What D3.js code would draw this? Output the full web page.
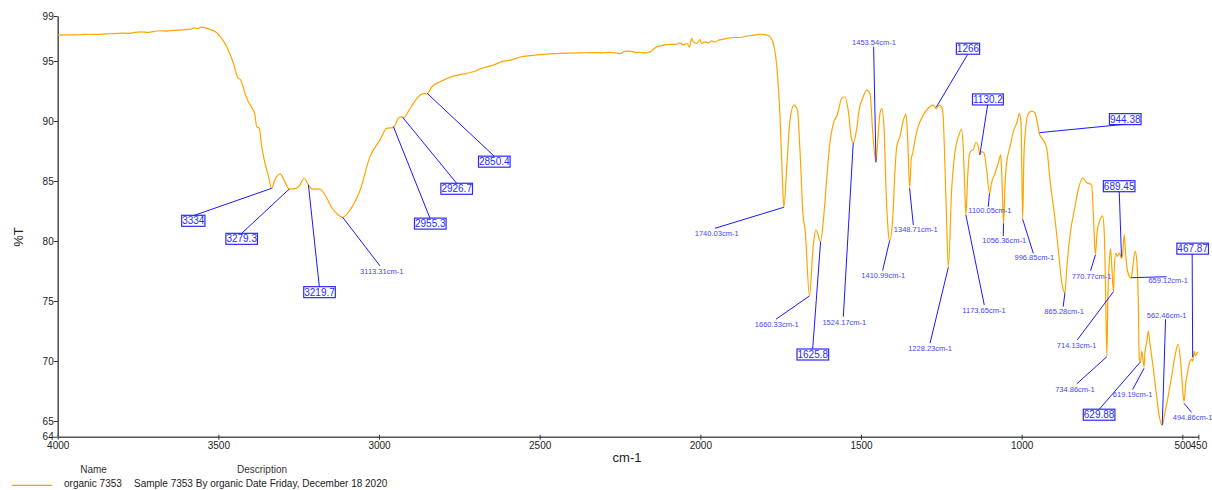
<!DOCTYPE html>
<html><head><meta charset="utf-8">
<script src="https://cdn.jsdelivr.net/npm/d3@7"></script>
<style>
body{margin:0;background:#fff;}
svg{display:block;font-family:"Liberation Sans",Arial,Helvetica,sans-serif;}
</style></head><body>
<svg id="chart" width="1212" height="490"></svg>
<script>
// ---------------- DATA ----------------
const wavenumber = [4000,3975,3950,3925,3900,3875,3850,3825,3800,3780,3760,3740,3720,3700,3680,3660,3640,3620,3600,3585,3575,3565,3555,3545,3526,3510,3495,3474,3453,3440,3430,3417,3407,3395,3386,3381,3373,3365,3355,3345,3334,3324,3308,3293,3279.3,3258,3246,3233,3219.7,3209,3184,3168,3146,3131,3113.31,3090,3059,3028,2997,2976,2957,2950,2940,2929,2926.7,2922,2914,2893,2872,2857,2850.4,2836,2810,2769,2727,2707,2686,2644,2613,2592,2561,2530,2499,2470,2437,2405,2375,2340,2312,2280,2250,2235,2219,2200,2188,2170,2157,2136,2115,2094,2074,2063,2053,2042,2034,2027,2022,2011,2001,1996,1986,1975,1965,1955,1944,1930,1918,1897,1877,1856,1835,1814,1794,1783,1773,1762,1752,1745,1740.03,1731,1721,1709,1698,1690,1680,1674,1660.33,1649,1640,1625.8,1617,1607,1597,1586,1574,1560,1550,1540,1529,1524.17,1514,1505,1495,1482,1472,1464,1453.54,1447,1441,1435,1428,1422,1415,1410.99,1401,1394,1389,1379,1368,1360,1355,1348.71,1344,1339,1332,1322,1306,1291,1277,1270,1266,1256,1246,1239,1234,1228.23,1218,1208,1197,1187,1182,1177,1173.65,1168,1163,1156,1151,1142,1135,1130.2,1125,1117,1109,1100.05,1094,1083,1073,1065,1061,1056.36,1052,1047,1036,1026,1014,1007,1002,996.85,993,987,980,969,959,951,944.38,933,922,912,896,886,875,865.28,860,850,834,824,810,798,782,777,770.77,765,756,748,743,739,734.86,732,727,723,719,714.13,712,707,703,696,689.45,686,681,676,669,659.12,655,647,642,637,634,629.88,626,619.19,616,611,606,601,590,580,572,562.46,554,544,533,523,513,505,499,494.86,489,482,476,471,467.87,463,459,454,450];
const transmittance = [97.15,97.18,97.17,97.20,97.23,97.21,97.26,97.28,97.33,97.30,97.38,97.42,97.38,97.47,97.52,97.49,97.56,97.58,97.62,97.66,97.76,97.70,97.82,97.80,97.62,97.45,97.07,96.18,94.80,93.63,93.40,92.30,91.60,91.08,90.50,89.53,89.40,87.87,86.49,85.51,84.39,85.12,85.60,84.93,84.33,84.38,84.68,85.23,84.67,84.33,84.33,83.83,82.73,82.27,81.98,82.60,84.23,87.03,88.43,89.39,89.45,89.67,90.23,90.36,90.31,90.28,90.58,91.47,92.16,92.30,92.25,92.85,93.27,93.74,93.97,94.10,94.33,94.66,94.99,95.07,95.33,95.45,95.53,95.60,95.63,95.66,95.68,95.70,95.68,95.72,95.62,95.80,95.83,95.70,95.73,95.68,95.76,96.18,96.32,96.38,96.40,96.51,96.32,96.46,96.18,96.88,96.59,96.46,96.79,96.46,96.59,96.51,96.68,96.57,96.73,96.80,96.88,96.96,96.96,97.07,97.15,97.23,97.18,97.01,96.46,94.52,90.33,85.37,82.81,86.20,90.09,91.33,90.92,87.59,82.03,80.93,75.42,79.55,80.93,79.94,81.77,85.10,88.15,89.81,90.50,91.89,92.02,90.92,88.42,88.19,89.25,91.06,91.89,92.58,92.30,89.25,86.56,88.70,90.63,91.03,89.25,84.27,80.67,80.03,82.05,85.93,87.87,88.70,90.09,90.58,88.70,84.39,86.76,87.32,88.42,89.53,90.50,91.06,91.33,91.19,91.00,91.33,90.92,86.49,82.05,77.81,84.27,87.32,88.70,89.31,87.87,84.27,82.17,85.37,87.18,87.53,87.59,88.23,87.87,87.20,87.45,87.32,85.93,83.97,84.83,85.65,86.49,87.18,84.83,81.47,84.54,86.49,87.87,89.11,89.94,90.63,89.81,81.81,87.04,89.53,90.58,90.83,90.69,89.81,88.90,88.42,87.73,85.10,81.77,79.28,76.51,75.69,77.62,80.38,82.88,84.27,85.24,84.87,84.68,82.33,78.83,80.80,81.77,82.10,80.67,76.23,70.40,74.85,78.45,79.34,77.62,75.78,77.62,79.00,78.72,79.00,78.55,78.86,80.53,78.72,77.33,76.90,77.62,79.14,78.45,74.85,70.13,69.94,70.83,69.50,70.83,71.53,72.49,71.53,69.30,67.08,65.42,64.65,65.70,67.08,68.75,70.41,71.38,69.86,67.64,66.60,68.20,69.30,69.99,70.13,69.99,70.83,70.41,70.69,70.73];

const xDomain = [4000, 450];
const yDomain = [63.69, 98.75];
const xTickValues = [4000, 3500, 3000, 2500, 2000, 1500, 1000, 500, 450];
const yTickValues = [98.75, 95, 90, 85, 80, 75, 70, 65, 63.69];
const xTitle = "cm-1";
const yTitle = "%T";
const legendHeaders = ["Name", "Description"];
const seriesName = "organic 7353";
const seriesDescription = "Sample 7353 By organic Date Friday, December 18 2020";

const peakText = ["3334","3279.3","3219.7","3113.31cm-1","2955.3","2926.7","2850.4","1740.03cm-1","1453.54cm-1","1660.33cm-1","1625.8","1524.17cm-1","1410.99cm-1","1348.71cm-1","1228.23cm-1","1173.65cm-1","1266","1130.2","1100.05cm-1","1056.36cm-1","996.85cm-1","944.38","865.28cm-1","770.77cm-1","689.45","659.12cm-1","714.13cm-1","734.86cm-1","629.88","619.19cm-1","562.46cm-1","494.86cm-1","467.87"];
const peakWavenumber = [3334,3279.3,3219.7,3113.31,2955.3,2926.7,2850.4,1740.03,1453.54,1660.33,1625.8,1524.17,1410.99,1348.71,1228.23,1173.65,1266,1130.2,1100.05,1056.36,996.85,944.38,865.28,770.77,689.45,659.12,714.13,734.86,629.88,619.19,562.46,494.86,467.87];
const peakT = [84.39,84.33,84.67,81.98,89.53,90.31,92.31,82.81,86.56,75.42,79.94,88.19,80.03,84.39,77.81,82.17,91.14,87.17,83.97,81.47,81.81,89.03,75.69,78.83,78.69,76.94,75.78,70.36,69.94,69.39,64.67,66.48,70.31];
const peakBoxed = [1,1,1,0,1,1,1,0,0,0,1,0,0,0,0,0,1,1,0,0,0,1,0,0,1,0,0,0,1,0,0,0,1];

// ---------------- LAYOUT ----------------
// label centre (dx,dy) and leader-line end (ex,ey), pixels relative to the peak point
const labelLayout = [
 [-78.4,32.5,-78.4,27.4],[-47.6,49.8,-47.6,44.3],[11.1,107.2,10.9,101.7],[39.1,54.4,37.4,48.7],
 [36.9,97,36.6,91.6],[54.1,71.5,54.1,66],[67.2,68.4,66.9,62.7],[-67.2,26,-68.9,21],
 [-2,-120,-2.3,-115.6],[-32.8,28.3,-33.5,23.3],[-7.8,112.8,-7.9,107.3],[-8.9,179.6,-9.9,174],
 [-6.4,35,-7,30],[6.1,41,3.7,36.7],[-18.3,81,-18.3,76],[18.1,95,18.4,90],
 [31.8,-58.6,31.5,-53],[8.1,-55.5,7.8,-50],[0.4,17.4,-1.3,13.4],[0.7,16.7,-0.3,12.7],
 [11.6,38,10.6,34],[85.7,-13.5,85.7,-8.4],[-0.8,18.3,-1.8,14],[-3.7,21,-4.7,15.7],
 [-2.3,-70.5,-2.2,-65],[37,3,35.4,-1],[-36.9,54,-36.3,48.3],[-31.9,32.6,-30.2,27.3],
 [-41.5,53,-41.4,47.6],[-11.4,26.2,-11.4,21.2],[4.3,-110,3.3,-105.7],[8.6,14.2,7.6,9.2],
 [0,-108.6,-0.5,-103.3]
];

const svg = d3.select("#chart");
const x = d3.scaleLinear().domain(xDomain).range([57.7, 1198.4]);
const y = d3.scaleLinear().domain(yDomain).range([436.7, 16]);

const axisColor = "#555";
// X axis
const gx = svg.append("g").attr("transform", "translate(0,436.7)")
  .call(d3.axisBottom(x).tickValues(xTickValues).tickFormat(d3.format("d")).tickSizeInner(3).tickSizeOuter(0).tickPadding(2));
gx.select(".domain").attr("stroke", axisColor).attr("stroke-width", 1.6);
gx.selectAll(".tick line").attr("stroke", "#333").attr("y1", -2).attr("y2", 3);
gx.selectAll(".tick text").attr("font-size", 10).attr("fill", "#222").attr("font-family", "Liberation Sans, Arial, sans-serif");

// Y axis
const gy = svg.append("g").attr("transform", "translate(57.7,0)")
  .call(d3.axisLeft(y).tickValues(yTickValues).tickFormat(d3.format(".0f")).tickSizeInner(4).tickSizeOuter(0).tickPadding(0));
gy.select(".domain").attr("stroke", axisColor).attr("stroke-width", 1.6);
gy.selectAll(".tick line").attr("stroke", "#333");
gy.selectAll(".tick text").attr("font-size", 10).attr("fill", "#222").attr("font-family", "Liberation Sans, Arial, sans-serif");

// titles
svg.append("text").attr("x", 627).attr("y", 462).attr("text-anchor", "middle")
  .attr("font-size", 13).attr("fill", "#222").text(xTitle);
svg.append("text").attr("transform", "translate(22.5,237) rotate(-90)").attr("text-anchor", "middle")
  .attr("font-size", 13).attr("fill", "#222").text(yTitle);

// spectrum
const pts = wavenumber.map((w, i) => [w, transmittance[i]]);
svg.append("path").datum(pts)
  .attr("fill", "none").attr("stroke", "#FFA500").attr("stroke-width", 1.2)
  .attr("stroke-linejoin", "round")
  .attr("d", d3.line().x(d => x(d[0])).y(d => y(d[1])).curve(d3.curveMonotoneX));

// annotations
const ann = svg.append("g");
peakText.forEach((t, i) => {
  const ax = x(peakWavenumber[i]), ay = y(peakT[i]);
  const [dx, dy, ex, ey] = labelLayout[i];
  ann.append("line").attr("x1", ax).attr("y1", ay).attr("x2", ax + ex).attr("y2", ay + ey)
    .attr("stroke", "#1a1aff").attr("stroke-width", 1);
  const cx = ax + dx, cy = ay + dy;
  if (peakBoxed[i]) {
    const tx = ann.append("text").attr("x", cx).attr("y", cy).attr("dy", "0.36em")
      .attr("text-anchor", "middle").attr("font-size", 10).attr("fill", "#2a2aff").text(t);
    const w = tx.node().getComputedTextLength();
    ann.insert("rect", "text").attr("x", cx - w / 2 - 0.5).attr("y", cy - 5.5)
      .attr("width", w + 1).attr("height", 11)
      .attr("fill", "none").attr("stroke", "#2a2aff").attr("stroke-width", 1.2);
  } else {
    ann.append("text").attr("x", cx).attr("y", cy).attr("dy", "0.36em")
      .attr("text-anchor", "middle").attr("font-size", 7.5).attr("fill", "#4545ff").text(t);
  }
});

// legend
svg.append("text").attr("x", 93.5).attr("y", 473.3).attr("text-anchor", "middle")
  .attr("font-size", 10).attr("fill", "#333").text(legendHeaders[0]);
svg.append("text").attr("x", 262).attr("y", 473.3).attr("text-anchor", "middle")
  .attr("font-size", 10).attr("fill", "#333").text(legendHeaders[1]);
svg.append("line").attr("x1", 12).attr("x2", 52).attr("y1", 485.3).attr("y2", 485.3)
  .attr("stroke", "#FFA500").attr("stroke-width", 1.2);
svg.append("text").attr("x", 64).attr("y", 487.2).attr("font-size", 10).attr("fill", "#222").text(seriesName);
svg.append("text").attr("x", 134).attr("y", 487.2).attr("font-size", 10).attr("fill", "#222").text(seriesDescription);
</script>
</body></html>
